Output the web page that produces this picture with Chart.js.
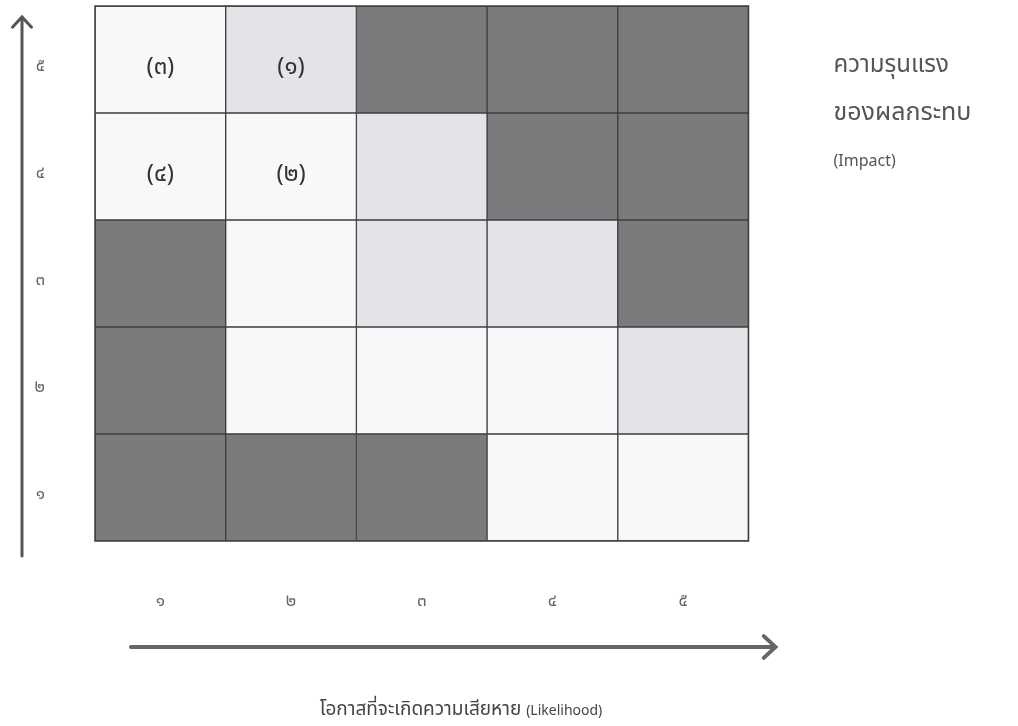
<!DOCTYPE html>
<html><head><meta charset="utf-8">
<script src="https://cdn.jsdelivr.net/npm/chart.js@4/dist/chart.umd.min.js"></script>
<style>html,body{margin:0;padding:0;background:#fff;}#wrap{width:1018px;height:726px;position:relative}</style>
</head><body><div id="wrap"><canvas id="c" width="1018" height="726"></canvas></div>
<script>
// Axis categories (Thai numerals)
const likelihoodLabels = ['๑','๒','๓','๔','๕'];
const impactLabels = ['๑','๒','๓','๔','๕'];
// Risk shade level per cell, left (likelihood ๑) to right (likelihood ๕)
// 0 = white, 1 = light grey, 2 = dark grey
const impact1 = [2,2,2,0,0];
const impact2 = [2,0,0,0,1];
const impact3 = [2,0,1,1,2];
const impact4 = [0,0,1,2,2];
const impact5 = [0,1,2,2,2];
// Risk items placed in cells
const impact1Items = ['','','','',''];
const impact2Items = ['','','','',''];
const impact3Items = ['','','','',''];
const impact4Items = ['(๔)','(๒)','','',''];
const impact5Items = ['(๓)','(๑)','','',''];
const levelColors = ['#f8f8fb','#e3e3e8','#7b7b7e'];

const rows = [impact1, impact2, impact3, impact4, impact5];
const rowItems = [impact1Items, impact2Items, impact3Items, impact4Items, impact5Items];
const FONT = '"Noto Sans Thai", "Noto Sans", "Open Sans", sans-serif';

const datasets = rows.map((lv, r) => ({
  label: 'Impact ' + impactLabels[r],
  data: lv.map(() => 1),
  backgroundColor: lv.map(v => levelColors[v]),
  borderColor: '#3e3e3e',
  borderWidth: 1,
  borderSkipped: false,
  barPercentage: 1,
  categoryPercentage: 1
}));

function arrow(ctx, x1, y1, x2, y2, w, head) {
  const ang = Math.atan2(y2 - y1, x2 - x1);
  ctx.lineWidth = w;
  ctx.lineCap = 'round';
  ctx.beginPath(); ctx.moveTo(x1, y1); ctx.lineTo(x2 - Math.cos(ang) * 2, y2 - Math.sin(ang) * 2); ctx.stroke();
  ctx.beginPath();
  ctx.moveTo(x2 - head * Math.cos(ang - 0.75), y2 - head * Math.sin(ang - 0.75));
  ctx.lineTo(x2, y2);
  ctx.lineTo(x2 - head * Math.cos(ang + 0.75), y2 - head * Math.sin(ang + 0.75));
  ctx.lineJoin = 'miter';
  ctx.stroke();
}

const deco = {
  id: 'deco',
  afterDatasetsDraw(chart) {
    const {ctx, chartArea: a, scales: {x, y}} = chart;
    ctx.save();
    ctx.strokeStyle = '#3e3e3e'; ctx.lineWidth = 1.5;
    ctx.strokeRect(a.left, a.top, a.right - a.left, a.bottom - a.top);
    ctx.fillStyle = '#333';
    ctx.font = '24px ' + FONT;
    ctx.textAlign = 'center'; ctx.textBaseline = 'middle';
    rowItems.forEach((items, r) => items.forEach((t, c) => {
      if (!t) return;
      ctx.fillText(t, x.getPixelForValue(c), y.getPixelForValue(r + 0.5) + 10);
    }));
    // arrows
    ctx.strokeStyle = '#555';
    arrow(ctx, a.left - 73, a.bottom + 15, a.left - 73, a.top + 11, 3, 14);
    ctx.strokeStyle = '#666';
    arrow(ctx, a.left + 36, a.bottom + 106, a.right + 27, a.bottom + 106, 4, 16);
    // right side title
    ctx.fillStyle = '#555';
    ctx.textAlign = 'left';
    ctx.font = '24px ' + FONT;
    ctx.fillText('ความรุนแรง', a.right + 85, a.top + 61);
    ctx.font = '25px ' + FONT;
    ctx.fillText('ของผลกระทบ', a.right + 85, a.top + 109);
    ctx.font = '16px ' + FONT;
    ctx.fillText('(Impact)', a.right + 85, a.top + 157);
    // bottom title
    ctx.fillStyle = '#444';
    const t1 = 'โอกาสที่จะเกิดความเสียหาย ', t2 = '(Likelihood)';
    ctx.font = '19px ' + FONT; const w1 = ctx.measureText(t1).width;
    ctx.font = '14px ' + FONT; const w2 = ctx.measureText(t2).width;
    const cx = a.left + 366, sx = cx - (w1 + w2) / 2, ty = a.bottom + 170;
    ctx.font = '19px ' + FONT; ctx.fillText(t1, sx, ty);
    ctx.font = '14px ' + FONT; ctx.fillText(t2, sx + w1, ty + 1);
    ctx.restore();
  }
};

new Chart(document.getElementById('c'), {
  type: 'bar',
  data: { labels: likelihoodLabels, datasets },
  options: {
    responsive: false,
    animation: false,
    devicePixelRatio: 1,
    layout: { padding: { top: 6, right: 269.5, left: 0, bottom: 0 } },
    plugins: { legend: { display: false }, tooltip: { enabled: false } },
    scales: {
      x: {
        stacked: true,
        grid: { display: false, drawTicks: false },
        border: { display: false },
        ticks: { color: '#666', font: { family: FONT, size: 17 }, padding: 51 },
        afterFit: s => { s.height = 185; s.paddingLeft = 0; s.paddingRight = 0; }
      },
      y: {
        stacked: true, min: 0, max: 5,
        grid: { display: false, drawTicks: false },
        border: { display: false },
        afterBuildTicks: s => { s.ticks = impactLabels.map((l, i) => ({ value: i + 0.5 })); },
        ticks: {
          color: '#666', font: { family: FONT, size: 17, lineHeight: 0.95 }, padding: 50,
          callback: v => ['', impactLabels[Math.floor(v)]]
        },
        afterFit: s => { s.width = 95; s.paddingTop = 0; s.paddingBottom = 0; }
      }
    }
  },
  plugins: [deco]
});
</script></body></html>
